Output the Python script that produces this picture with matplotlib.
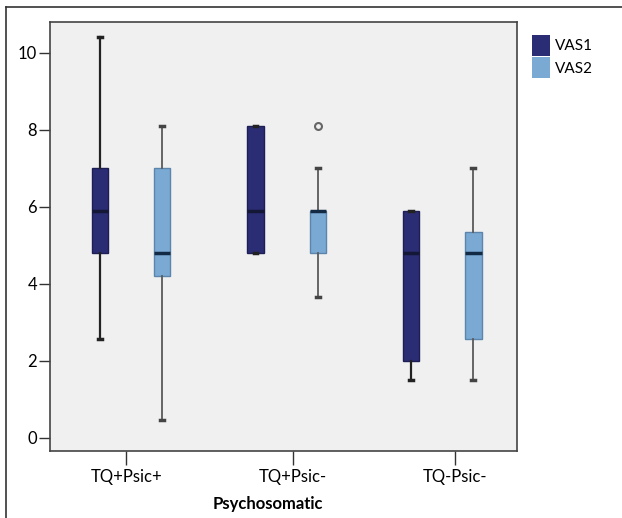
import matplotlib.pyplot as plt
from matplotlib.lines import Line2D
from matplotlib.patches import Patch

# ---- data ----
groups = ["TQ+Psic+", "TQ+Psic-", "TQ-Psic-"]
series = ["VAS1", "VAS2"]

vas1_whislo = [2.55, 4.8, 1.5]
vas1_q1 = [4.8, 4.8, 2.0]
vas1_med = [5.9, 5.9, 4.8]
vas1_q3 = [7.0, 8.1, 5.9]
vas1_whishi = [10.4, 8.1, 5.9]
vas1_fliers = [[], [], []]

vas2_whislo = [0.45, 3.65, 1.5]
vas2_q1 = [4.2, 4.8, 2.55]
vas2_med = [4.8, 5.9, 4.8]
vas2_q3 = [7.0, 5.9, 5.35]
vas2_whishi = [8.1, 7.0, 7.0]
vas2_fliers = [[], [8.1], []]

yticks = [0, 2, 4, 6, 8, 10]

plt.rcParams['font.family'] = ['Lato', 'DejaVu Sans']

dark = "#2b2d74"
light = "#7aaad4"


def make_stats(lo, q1, med, q3, hi, fl):
    return [dict(whislo=a, q1=b, med=c, q3=d, whishi=e, fliers=f)
            for a, b, c, d, e, f in zip(lo, q1, med, q3, hi, fl)]


fig = plt.figure(figsize=(6.22, 5.18), dpi=100)
ax = fig.add_axes([49.6 / 622, 1 - 451 / 518, (517 - 49.6) / 622, (451 - 22) / 518])
ax.set_facecolor("#f0f0f0")

centers = [0, 1, 2]
off = 0.2
bw = 0.106

s1 = make_stats(vas1_whislo, vas1_q1, vas1_med, vas1_q3, vas1_whishi, vas1_fliers)
s2 = make_stats(vas2_whislo, vas2_q1, vas2_med, vas2_q3, vas2_whishi, vas2_fliers)

ax.bxp(s1, positions=[c - off for c in centers], widths=bw, patch_artist=True,
       boxprops=dict(facecolor=dark, edgecolor="#1c1e55", linewidth=1),
       medianprops=dict(color="#141735", linewidth=2.5),
       whiskerprops=dict(color="#222222", linewidth=1.6),
       capprops=dict(color="#222222", linewidth=2.5),
       capwidths=0.025, manage_ticks=False)
ax.bxp(s2, positions=[c + off for c in centers], widths=bw, patch_artist=True,
       boxprops=dict(facecolor=light, edgecolor="#5b85ad", linewidth=1),
       medianprops=dict(color="#132a45", linewidth=2.5),
       whiskerprops=dict(color="#5a5a5a", linewidth=1.3),
       capprops=dict(color="#444444", linewidth=2.5),
       capwidths=0.025,
       flierprops=dict(marker="o", markersize=5, markerfacecolor="none",
                       markeredgecolor="#666666", markeredgewidth=1.5),
       manage_ticks=False)

ax.set_xlim(-0.523, 2.48)
ax.set_ylim(-0.35, 10.8)
ax.set_yticks(yticks)
ax.set_yticklabels([str(t) for t in yticks], fontsize=12)
ax.set_xticks([-0.03, 1.04, 2.08])
ax.set_xticklabels(groups, fontsize=12)
ax.tick_params(axis="y", length=8, width=1, color="#333333", pad=1)
ax.tick_params(axis="x", length=10, width=1, color="#333333", pad=3)
for sp in ax.spines.values():
    sp.set_color("#444444")
    sp.set_linewidth(1.2)

fig.text(268 / 622, 1 - 504 / 518, "Psychosomatic", fontsize=12, fontweight="bold",
         ha="center", va="center")

handles = [Patch(facecolor=dark, edgecolor="none"), Patch(facecolor=light, edgecolor="none")]
fig.legend(handles, series, loc="upper left", bbox_to_anchor=(524 / 622, 1 - 27 / 518),
           frameon=False, fontsize=11, handlelength=1.2, handleheight=1.75,
           handletextpad=0.3, labelspacing=0.1, borderpad=0)

# outer frame around the figure (clipped at right/bottom)
fig.add_artist(Line2D([6 / 622, 6 / 622], [1 - 7 / 518, 0], color="#333333", lw=1.2))
fig.add_artist(Line2D([6 / 622, 1], [1 - 7 / 518, 1 - 7 / 518], color="#333333", lw=1.2))

fig.savefig("out.png", dpi=100)
